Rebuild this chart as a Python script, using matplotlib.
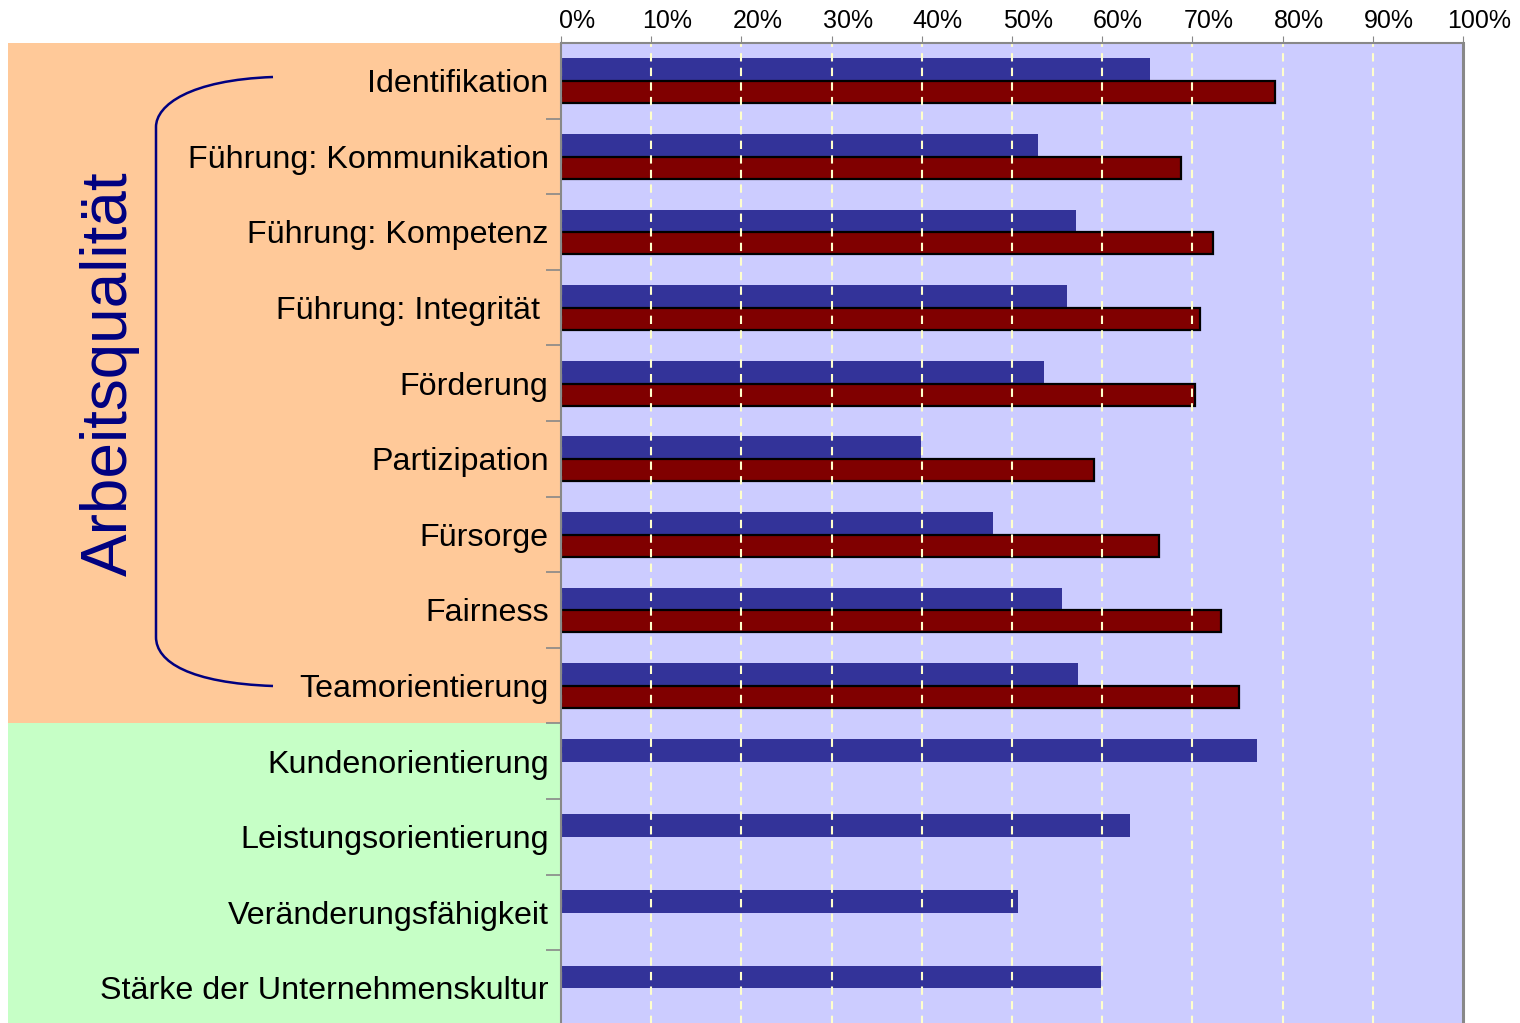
import numpy as np
import matplotlib.pyplot as plt
from matplotlib.patches import Rectangle
from matplotlib.path import Path
from matplotlib.patches import PathPatch
from matplotlib.transforms import blended_transform_factory, ScaledTranslation
from matplotlib.ticker import FixedLocator

plt.rcParams['font.family'] = ['Liberation Sans', 'DejaVu Sans']

categories = ['Identifikation', 'Führung: Kommunikation', 'Führung: Kompetenz',
              'Führung: Integrität ', 'Förderung', 'Partizipation', 'Fürsorge',
              'Fairness', 'Teamorientierung', 'Kundenorientierung',
              'Leistungsorientierung', 'Veränderungsfähigkeit',
              'Stärke der Unternehmenskultur']
blue_vals = [65.3, 52.9, 57.1, 56.1, 53.5, 39.9, 47.9, 55.5, 57.3, 77.2, 63.1, 50.7, 59.9]
red_vals = [79.2, 68.7, 72.3, 70.8, 70.3, 59.1, 66.3, 73.2, 75.2]
xticks = list(range(0, 101, 10))
xtick_labels = [f'{t}%' for t in xticks]

W, H = 1520, 1023
fig = plt.figure(figsize=(W / 100, H / 100), dpi=100)
ax = fig.add_axes([561 / W, 1 - 1025.8 / H, (1463 - 561) / W, (1025.8 - 43) / H])
ax.set_facecolor('#CCCCFF')

y = np.arange(len(categories))
ax.barh(y[:len(blue_vals)] - 0.145, blue_vals, height=0.3, color='#333399', zorder=1)
ax.barh(y[:len(red_vals)] + 0.15, red_vals, height=0.29, color='#800000',
        edgecolor='black', linewidth=1.6, zorder=1)

ax.set_xlim(0, 100)
ax.set_ylim(len(categories) - 0.5, -0.5)
ax.xaxis.tick_top()
ax.set_xticks(xticks)
ax.set_xticklabels(xtick_labels, fontsize=18)
ax.tick_params(axis='x', length=5, color='#888888', pad=2)
shift = ScaledTranslation(16 / 100, 0, fig.dpi_scale_trans)
for lbl in ax.get_xticklabels():
    lbl.set_transform(lbl.get_transform() + shift)
ax.set_yticks(y)
ax.set_yticklabels(categories, fontsize=23.2)
ax.tick_params(axis='y', which='major', length=0, pad=9)
ax.yaxis.set_minor_locator(FixedLocator(np.arange(0.5, len(categories) - 1, 1)))
ax.tick_params(axis='y', which='minor', length=11, color='#888888', width=1.2)

ax.grid(axis='x', color='#FFFFCC', linestyle=(0, (4, 3)), linewidth=1.5)
ax.set_axisbelow(False)
for s in ax.spines.values():
    s.set_color('#888888')
    s.set_linewidth(1.5)
    s.set_zorder(3)
ax.spines['right'].set_linewidth(2.2)

# coloured panels behind the labels
tr = blended_transform_factory(fig.transFigure, ax.transData)
fig.add_artist(Rectangle((8 / W, -0.5), 561 / W - 8 / W, 9, transform=tr,
                         facecolor='#FFC999', edgecolor='none', zorder=-1))
fig.add_artist(Rectangle((8 / W, 8.5), 561 / W - 8 / W, 4.5, transform=tr,
                         facecolor='#C6FFC6', edgecolor='none', zorder=-1))

# brace
def fp(px, py):
    return (px / W, 1 - py / H)

verts = [fp(273, 77), fp(190, 80), fp(156, 105), fp(156, 127),
         fp(156, 637), fp(156, 662), fp(190, 683), fp(273, 686)]
codes = [Path.MOVETO, Path.CURVE4, Path.CURVE4, Path.CURVE4,
         Path.LINETO, Path.CURVE4, Path.CURVE4, Path.CURVE4]
fig.add_artist(PathPatch(Path(verts, codes), transform=fig.transFigure,
                         facecolor='none', edgecolor='#000080', linewidth=1.8))

fig.text(110 / W, 1 - 374 / H, 'Arbeitsqualität', rotation=90, fontsize=46,
         color='#000080', ha='center', va='center')

fig.savefig('out.png', dpi=100)
